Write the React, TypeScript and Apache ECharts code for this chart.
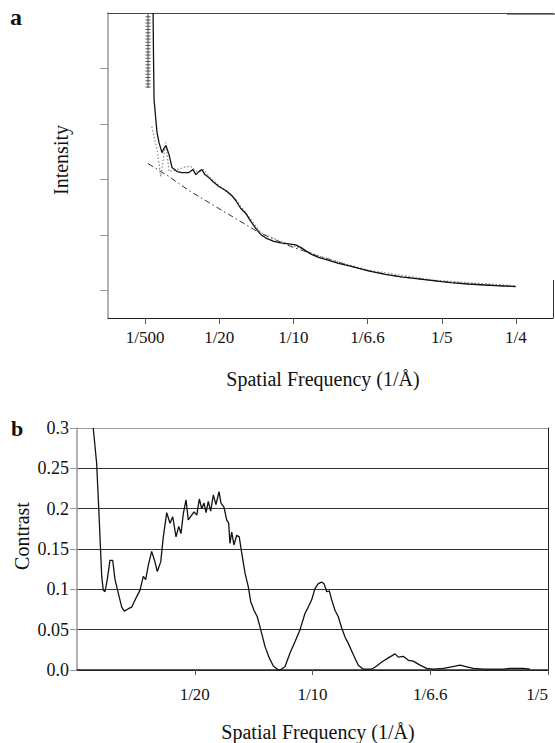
import React, { useEffect, useRef } from "react";
import * as echarts from "echarts";

// Panel a: x positions are tick indices (0 = 1/500 ... 5 = 1/4), y in tick units
const aTickLabels = ["1/500", "1/20", "1/10", "1/6.6", "1/5", "1/4"];
const aTickValues = [0, 1, 2, 3, 4, 5];
const aYTickValues = [0, 1, 2, 3, 4];

const intensityX = [0.108,0.114,0.121,0.161,0.188,0.228,0.255,0.282,0.323,0.363,0.430,0.497,0.591,0.645,0.685,0.726,0.766,0.806,0.860,0.914,0.995,1.089,1.169,1.223,1.290,1.358,1.425,1.492,1.559,1.640,1.734,1.828,1.935,2.030,2.110,2.177,2.245,2.339,2.433,2.608,2.782,3.011,3.239,3.454,3.683,3.911,4.126,4.355,4.583,4.798,4.997];
const intensityY = [5.0,4.155,3.435,2.842,2.662,2.482,2.56,2.608,2.446,2.212,2.14,2.122,2.122,2.176,2.086,2.14,2.176,2.086,2.032,1.96,1.871,1.799,1.709,1.619,1.475,1.385,1.241,1.115,1.007,0.935,0.881,0.854,0.836,0.818,0.764,0.701,0.647,0.594,0.558,0.486,0.432,0.351,0.288,0.243,0.207,0.171,0.138,0.113,0.095,0.081,0.067];

const backgroundX = [0.040,0.323,0.591,0.860,1.129,1.398,1.559,1.774,1.962,2.137,2.312,2.473,2.782,3.011,3.239,3.454,3.683,3.911,4.126,4.355,4.583,4.798,4.997];
const backgroundY = [2.284,2.050,1.799,1.583,1.367,1.151,1.025,0.899,0.791,0.710,0.629,0.567,0.432,0.351,0.288,0.243,0.207,0.171,0.138,0.113,0.095,0.081,0.067];

const fitX = [0.090,0.161,0.211,0.278,0.323,0.430,0.551,0.618,0.699,0.793,0.887,0.995,1.223,1.559,1.828,2.030,2.339,3.011,3.911,4.997];
const fitY = [2.950,2.536,2.050,2.662,2.140,2.176,2.230,2.230,2.140,2.176,2.014,1.888,1.637,1.043,0.881,0.791,0.612,0.360,0.180,0.081];

const hatchX = [0.040, 0.040];
const hatchY = [5.0, 3.65];

// Panel b: x positions are tick indices (1 = 1/20 ... 4 = 1/5)
const bTickLabels = ["", "1/20", "1/10", "1/6.6", "1/5"];
const bTickValues = [1, 2, 3, 4];

const contrastX = [0.138,0.167,0.189,0.210,0.223,0.238,0.257,0.280,0.303,0.323,0.351,0.380,0.402,0.436,0.465,0.507,0.535,0.563,0.583,0.606,0.634,0.662,0.682,0.711,0.733,0.762,0.790,0.813,0.841,0.864,0.883,0.903,0.926,0.945,0.974,0.994,1.017,1.039,1.059,1.079,1.096,1.115,1.135,1.158,1.180,1.206,1.223,1.248,1.271,1.288,1.299,1.314,1.333,1.356,1.378,1.399,1.427,1.455,1.475,1.503,1.531,1.560,1.597,1.633,1.667,1.710,1.724,1.766,1.809,1.851,1.894,1.936,1.964,1.993,2.021,2.049,2.078,2.098,2.121,2.143,2.163,2.191,2.219,2.248,2.276,2.304,2.347,2.389,2.431,2.503,2.545,2.588,2.644,2.701,2.729,2.771,2.814,2.856,2.913,2.970,3.026,3.111,3.182,3.253,3.310,3.366,3.451,3.620,3.677,3.790,3.847];
const contrastY = [0.300,0.256,0.186,0.116,0.099,0.097,0.112,0.136,0.136,0.112,0.095,0.078,0.073,0.076,0.078,0.091,0.099,0.116,0.112,0.130,0.147,0.134,0.122,0.134,0.165,0.195,0.182,0.190,0.165,0.178,0.169,0.194,0.211,0.186,0.192,0.196,0.192,0.212,0.200,0.207,0.195,0.209,0.197,0.217,0.205,0.221,0.207,0.202,0.186,0.182,0.157,0.171,0.155,0.167,0.165,0.145,0.120,0.103,0.085,0.074,0.066,0.050,0.029,0.015,0.005,0.000,0.000,0.004,0.021,0.035,0.050,0.070,0.078,0.087,0.101,0.107,0.109,0.107,0.097,0.098,0.087,0.074,0.066,0.052,0.041,0.033,0.019,0.006,0.001,0.001,0.005,0.010,0.015,0.020,0.016,0.017,0.012,0.011,0.006,0.002,0.001,0.002,0.004,0.006,0.004,0.002,0.001,0.001,0.002,0.002,0.001];

const FONT = "Liberation Serif";

function zip(xs: number[], ys: number[]) {
  const n = Math.min(xs.length, ys.length);
  const out: number[][] = [];
  for (let i = 0; i < n; i++) out.push([xs[i], ys[i]]);
  return out;
}

function titleText(x: number, y: number, text: string, size: number, rotate = 0, bold = false, align = "center") {
  return {
    type: "text",
    x,
    y,
    rotation: rotate,
    style: {
      text,
      fontFamily: FONT,
      fontSize: size,
      fontWeight: bold ? "bold" : "normal",
      fill: "#111",
      align,
      verticalAlign: "middle",
    },
  };
}

export default function App() {
  const ref = useRef<HTMLDivElement>(null);

  useEffect(() => {
    if (!ref.current) return;
    const chart = echarts.init(ref.current, null, { renderer: "svg" });
    const option: any = {
      animation: false,
      backgroundColor: "#ffffff",
      textStyle: { fontFamily: FONT },
      grid: [
        { left: 108, right: 2, top: 13, bottom: 425, containLabel: false },
        { left: 77, right: 7, top: 428, bottom: 73, containLabel: false },
      ],
      xAxis: [
        {
          gridIndex: 0,
          type: "value",
          min: -0.5,
          max: 5.5,
          axisLine: { show: true, onZero: false, lineStyle: { color: "#222", width: 1.2 } },
          axisTick: { show: true, customValues: aTickValues, length: 6, lineStyle: { color: "#555" } },
          axisLabel: {
            show: true,
            customValues: aTickValues,
            formatter: (v: number) => aTickLabels[Math.round(v)] ?? "",
            fontFamily: FONT,
            fontSize: 17,
            color: "#111",
            margin: 11,
          },
          splitLine: { show: false },
        },
        {
          gridIndex: 0,
          type: "value",
          position: "top",
          min: -0.5,
          max: 5.5,
          axisLine: { show: true, onZero: false, lineStyle: { color: "#444", width: 1 } },
          axisTick: { show: false },
          axisLabel: { show: false },
          splitLine: { show: false },
        },
        {
          gridIndex: 1,
          type: "value",
          min: 0,
          max: 4,
          interval: 1,
          axisLine: { show: true, onZero: false, lineStyle: { color: "#222", width: 1.5 } },
          axisTick: { show: true, customValues: bTickValues, length: 5, lineStyle: { color: "#555" } },
          axisLabel: {
            show: true,
            formatter: (v: number) => bTickLabels[Math.round(v)] ?? "",
            showMinLabel: false,
            alignMaxLabel: "right",
            fontFamily: FONT,
            fontSize: 17,
            color: "#111",
            margin: 16,
          },
          splitLine: { show: false },
        },
      ],
      yAxis: [
        {
          gridIndex: 0,
          type: "value",
          min: -0.5,
          max: 5,
          axisLine: { show: true, onZero: false, lineStyle: { color: "#999", width: 1.5 } },
          axisTick: { show: true, customValues: aYTickValues, length: 8, lineStyle: { color: "#999" } },
          axisLabel: { show: false },
          splitLine: { show: false },
        },
        {
          gridIndex: 1,
          type: "value",
          min: 0,
          max: 0.3,
          interval: 0.05,
          axisLine: { show: true, onZero: false, lineStyle: { color: "#999", width: 1.5 } },
          axisTick: { show: true, length: 7, lineStyle: { color: "#999" } },
          axisLabel: {
            show: true,
            formatter: (v: number) => (v === 0 ? "0.0" : String(+v.toFixed(2))),
            fontFamily: FONT,
            fontSize: 18,
            color: "#111",
            margin: 8,
          },
          splitLine: {
            show: true,
            lineStyle: { color: ["#333", "#333", "#333", "#333", "#333", "#333", "#999"], width: 1 },
          },
        },
        {
          gridIndex: 1,
          type: "value",
          position: "right",
          min: 0,
          max: 0.3,
          axisLine: { show: true, onZero: false, lineStyle: { color: "#222", width: 1 } },
          axisTick: { show: false },
          axisLabel: { show: false },
          splitLine: { show: false },
        },
      ],
      series: [
        {
          name: "hatch-core",
          type: "line",
          xAxisIndex: 0,
          yAxisIndex: 0,
          data: zip(hatchX, hatchY),
          showSymbol: false,
          lineStyle: { color: "#444", width: 1 },
          z: 3,
        },
        {
          name: "hatch-marks",
          type: "line",
          xAxisIndex: 0,
          yAxisIndex: 0,
          data: zip(hatchX, hatchY),
          showSymbol: false,
          lineStyle: { color: "#555", width: 5, type: [1, 2.2] },
          z: 3,
        },
        {
          name: "background",
          type: "line",
          xAxisIndex: 0,
          yAxisIndex: 0,
          data: zip(backgroundX, backgroundY),
          showSymbol: false,
          lineStyle: { color: "#333", width: 1, type: [6, 3, 1.5, 3] },
          z: 3,
        },
        {
          name: "fit",
          type: "line",
          xAxisIndex: 0,
          yAxisIndex: 0,
          data: zip(fitX, fitY),
          showSymbol: false,
          lineStyle: { color: "#888", width: 1.2, type: [1.5, 2] },
          z: 3,
        },
        {
          name: "intensity",
          type: "line",
          xAxisIndex: 0,
          yAxisIndex: 0,
          data: zip(intensityX, intensityY),
          showSymbol: false,
          lineStyle: { color: "#111", width: 1.3 },
          z: 4,
        },
        {
          name: "contrast",
          type: "line",
          xAxisIndex: 2,
          yAxisIndex: 1,
          data: zip(contrastX, contrastY),
          showSymbol: false,
          lineStyle: { color: "#111", width: 1.3 },
          z: 4,
        },
      ],
      graphic: [
        titleText(10, 17, "a", 24, 0, true, "left"),
        titleText(11, 428, "b", 22, 0, true, "left"),
        titleText(61, 160, "Intensity", 20, Math.PI / 2),
        titleText(21.5, 536, "Contrast", 20, Math.PI / 2),
        titleText(323, 379, "Spatial Frequency (1/Å)", 20),
        titleText(318, 732, "Spatial Frequency (1/Å)", 20),
        {
          type: "line",
          shape: { x1: 553.5, y1: 280, x2: 553.5, y2: 318 },
          style: { stroke: "#333", lineWidth: 1 },
        },
        {
          type: "line",
          shape: { x1: 507, y1: 14, x2: 555, y2: 14 },
          style: { stroke: "#666", lineWidth: 1.5 },
        },
      ],
    };
    chart.setOption(option);
    return () => chart.dispose();
  }, []);

  return (
    <div
      ref={ref}
      style={{ position: "absolute", left: 0, top: 0, width: 555, height: 743, background: "#fff" }}
    />
  );
}
